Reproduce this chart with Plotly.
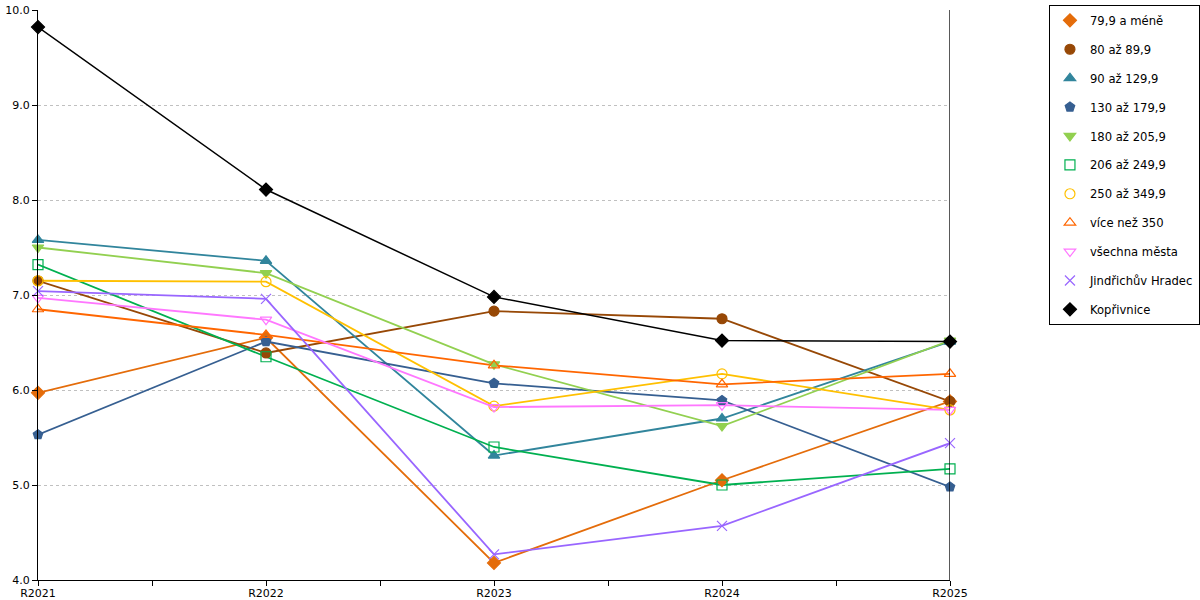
import plotly.graph_objects as go

years = ['R2021', 'R2022', 'R2023', 'R2024', 'R2025']

series_names = [
    '79,9 a méně', '80 až 89,9', '90 až 129,9', '130 až 179,9', '180 až 205,9',
    '206 až 249,9', '250 až 349,9', 'více než 350', 'všechna města',
    'Jindřichův Hradec', 'Kopřivnice',
]

v_79 = [5.97, 6.55, 4.18, 5.05, 5.88]
v_80 = [7.15, 6.39, 6.83, 6.75, 5.88]
v_90 = [7.58, 7.36, 5.31, 5.70, 6.51]
v_130 = [5.53, 6.51, 6.07, 5.89, 4.98]
v_180 = [7.50, 7.23, 6.27, 5.62, 6.52]
v_206 = [7.32, 6.35, 5.40, 5.00, 5.17]
v_250 = [7.15, 7.14, 5.83, 6.17, 5.79]
v_350 = [6.85, 6.58, 6.26, 6.06, 6.17]
v_all = [6.97, 6.74, 5.82, 5.84, 5.79]
v_jh = [7.04, 6.96, 4.27, 4.57, 5.44]
v_kop = [9.82, 8.11, 6.98, 6.52, 6.51]

values = [v_79, v_80, v_90, v_130, v_180, v_206, v_250, v_350, v_all, v_jh, v_kop]

colors = ['#e46c0a', '#974806', '#31859c', '#365f91', '#92d050', '#00b050',
          '#ffc000', '#ff6600', '#ff77ff', '#9966ff', '#000000']
symbols = ['diamond', 'circle', 'triangle-up', 'pentagon', 'triangle-down',
           'square-open', 'circle-open', 'triangle-up-open', 'triangle-down-open',
           'x-thin-open', 'diamond']

fig = go.Figure()
x_pos = list(range(len(years)))
for i, name in enumerate(series_names):
    # line only, hidden from legend
    fig.add_trace(go.Scatter(
        x=x_pos, y=values[i], name=name, mode='lines',
        line={'color': colors[i], 'width': 1.8 if i < 10 else 1.5},
        legendgroup=name, showlegend=False, hoverinfo='skip',
    ))
for i, name in enumerate(series_names):
    # markers, shown in legend (marker only like the original)
    fig.add_trace(go.Scatter(
        x=x_pos, y=values[i], name=name, mode='markers',
        marker={'symbol': symbols[i], 'size': 10, 'color': colors[i],
                'line': {'color': colors[i], 'width': 1.2}},
        legendgroup=name, cliponaxis=False,
    ))

# right border line of the plot area
fig.add_shape(type='line', xref='x', yref='paper', x0=4, x1=4, y0=0, y1=1,
              line={'color': 'black', 'width': 1.3})

fig.update_layout(
    width=1200, height=600,
    margin={'l': 38, 'r': 250, 't': 10, 'b': 20, 'autoexpand': False},
    plot_bgcolor='white',
    paper_bgcolor='white',
    font={'family': 'DejaVu Sans', 'size': 11, 'color': 'black'},
    showlegend=True,
    legend={
        'x': 1.1085, 'y': 1.009, 'xanchor': 'left', 'yanchor': 'top',
        'bordercolor': 'black', 'borderwidth': 1,
        'font': {'size': 11.6},
        'tracegroupgap': 9.9,
        'itemwidth': 30,
        'maxheight': 590,
    },
    xaxis={
        'range': [0, 4],
        'tickvals': x_pos,
        'ticktext': years,
        'ticks': 'outside', 'ticklen': 5, 'tickcolor': 'black',
        'ticklabelstandoff': -2,
        'showline': True, 'linecolor': 'black', 'linewidth': 1.3,
        'showgrid': False, 'zeroline': False, 'automargin': False,
        'minor': {'dtick': 0.5, 'ticks': 'outside', 'ticklen': 5, 'tickcolor': 'black', 'showgrid': False},
    },
    yaxis={
        'range': [4, 10],
        'dtick': 1, 'tickformat': '.1f',
        'ticks': 'outside', 'ticklen': 5, 'tickcolor': 'black',
        'showline': True, 'linecolor': 'black', 'linewidth': 1.3,
        'showgrid': True, 'gridcolor': '#c0c0c0', 'griddash': 'dot', 'gridwidth': 1,
        'zeroline': False, 'automargin': False,
    },
)

# the page body has a default 8px margin; drop it so the figure sits at the window corner
fig.write_html('out.html', config={'displayModeBar': False},
               post_script="document.body.style.margin='0';")
